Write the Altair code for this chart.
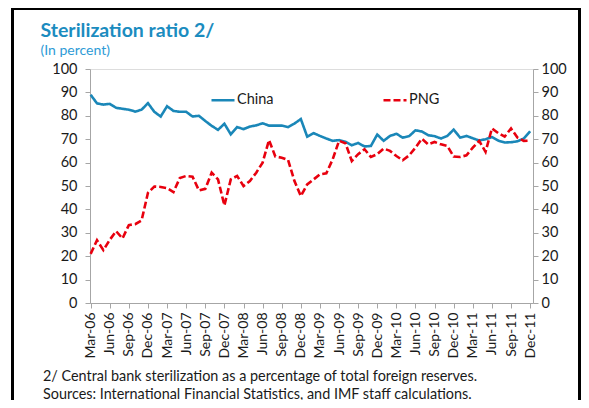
import json
import altair as alt
import pandas as pd

# ---- data ----
series_names = ["China", "PNG"]
tick_labels = ["Mar-06", "Jun-06", "Sep-06", "Dec-06", "Mar-07", "Jun-07", "Sep-07", "Dec-07",
               "Mar-08", "Jun-08", "Sep-08", "Dec-08", "Mar-09", "Jun-09", "Sep-09", "Dec-09",
               "Mar-10", "Jun-10", "Sep-10", "Dec-10", "Mar-11", "Jun-11", "Sep-11", "Dec-11"]
y_ticks = [0, 10, 20, 30, 40, 50, 60, 70, 80, 90, 100]

china = [89.0, 85.3, 84.8, 85.1, 83.4, 83.0, 82.6, 81.8, 82.6, 85.4,
         81.7, 79.7, 84.1, 82.1, 81.7, 81.7, 79.7, 80.0, 77.8, 75.7,
         74.0, 76.6, 72.1, 75.2, 74.3, 75.4, 75.9, 76.8, 75.8, 75.8,
         75.8, 75.2, 76.7, 78.6, 71.1, 72.6, 71.4, 70.3, 69.3, 69.6,
         68.9, 67.4, 68.4, 66.9, 67.1, 72.0, 69.3, 71.4, 72.3, 70.7,
         71.3, 73.8, 73.3, 71.7, 71.3, 70.3, 71.4, 74.1, 70.7, 71.4,
         70.4, 69.4, 70.0, 70.9, 69.4, 68.6, 68.7, 69.1, 70.3, 73.4]

png = [21.0, 26.8, 22.6, 27.0, 30.7, 27.6, 33.3, 33.7, 35.3, 47.1,
       49.8, 49.6, 49.1, 47.4, 53.4, 54.3, 54.0, 48.1, 48.8, 55.7,
       52.8, 41.7, 52.8, 54.3, 50.0, 52.1, 55.7, 60.0, 69.6, 62.6,
       62.1, 61.1, 52.1, 45.7, 50.7, 52.8, 55.0, 55.4, 61.4, 69.3,
       68.3, 60.7, 63.6, 65.7, 62.4, 63.6, 66.0, 65.0, 62.8, 61.0,
       63.1, 66.4, 70.2, 67.8, 68.8, 67.8, 67.1, 62.6, 62.4, 63.1,
       66.4, 69.3, 64.6, 74.6, 72.6, 71.1, 74.6, 70.7, 69.3, 69.4]

title_text = "Sterilization ratio 2/"
subtitle_text = "(In percent)"
footnotes = ["2/ Central bank sterilization as a percentage of total foreign reserves.",
             "Sources: International Financial Statistics, and IMF staff calculations."]

rows = []
for name, vals in zip(series_names, [china, png]):
    for i, v in enumerate(vals):
        rows.append({"month": i, "series": name, "value": v})
df = pd.DataFrame(rows)

FONT = "Lato"
BLUE = "#1a87b8"
RED = "#e8000e"
AXIS_GRAY = "#a6a6a6"

label_expr = json.dumps(tick_labels) + "[round(datum.value/3)]"
x_scale = alt.Scale(domain=[-0.1, 69.45], nice=False, zero=False)
y_scale = alt.Scale(domain=[0, 100], nice=False)

x_enc = alt.X("month:Q", scale=x_scale,
              axis=alt.Axis(values=list(range(0, 70, 3)), labelExpr=label_expr,
                            labelAngle=270, labelFontSize=14, labelPadding=4,
                            tickSize=5, tickColor=AXIS_GRAY, domainColor=AXIS_GRAY,
                            labelColor="#1a1a1a", labelFont=FONT, grid=False, title=None,
                            labelOverlap=False))

lines = alt.Chart(df).mark_line(strokeWidth=2.6).encode(
    x=x_enc,
    y=alt.Y("value:Q", scale=y_scale,
            axis=alt.Axis(values=y_ticks, orient="left", tickSize=5, labelPadding=8,
                          labelFontSize=14.5, labelColor="#1a1a1a", labelFont=FONT,
                          tickColor=AXIS_GRAY, domainColor=AXIS_GRAY, grid=False, title=None)),
    color=alt.Color("series:N", sort=series_names,
                    scale=alt.Scale(domain=series_names, range=[BLUE, RED]),
                    legend=alt.Legend(title=None, orient="none", legendX=120, legendY=18,
                                      direction="horizontal", symbolType="stroke",
                                      symbolSize=530, symbolStrokeWidth=2.6,
                                      labelFontSize=14.5, labelFont=FONT, labelColor="#1a1a1a",
                                      labelOffset=1, columnPadding=104)),
    strokeDash=alt.StrokeDash("series:N", sort=series_names,
                              scale=alt.Scale(domain=series_names, range=[[1, 0], [7, 3]]),
                              legend=None),
    order=alt.Order("month:Q"),
)

right_axis = alt.Chart(df).mark_line(strokeOpacity=0).encode(
    x=x_enc,
    y=alt.Y("value:Q", scale=y_scale,
            axis=alt.Axis(values=y_ticks, orient="right", tickSize=5, labelPadding=3,
                          labelFontSize=14.5, labelColor="#1a1a1a", labelFont=FONT,
                          tickColor=AXIS_GRAY, domainColor=AXIS_GRAY, grid=False, title=None)),
    detail="series:N",
)

text_df = pd.DataFrame({"text": [title_text, subtitle_text] + footnotes, "k": [0, 1, 2, 3]})

def text_layer(k, y, size, color, weight="normal"):
    return alt.Chart(text_df[text_df.k == k]).mark_text(
        align="left", baseline="alphabetic", fontSize=size, font=FONT, color=color,
        fontWeight=weight
    ).encode(x=alt.value(-47 if k >= 2 else -49.5), y=alt.value(y), text="text:N")

title = text_layer(0, -32.5, 19.5, "#1b8cbf", "bold")
subtitle = text_layer(1, -14.5, 14, "#2e9bd6")
note1 = text_layer(2, 311.5, 14.4, "#1a1a1a")
note2 = text_layer(3, 329.5, 14.4, "#1a1a1a")

frame = alt.Chart(pd.DataFrame({"k": [0]})).mark_rect(
    fillOpacity=0, stroke="black", strokeWidth=3, clip=False
).encode(x=alt.value(-77.5), x2=alt.value(489.5), y=alt.value(-60.5), y2=alt.value(400))

chart = alt.layer(lines, right_axis, title, subtitle, note1, note2, frame).resolve_axis(
    y="independent"
).resolve_scale(y="shared").properties(
    width=443, height=234,
    autosize=alt.AutoSizeParams(type="none"),
    padding={"left": 82, "top": 61, "right": 48, "bottom": 97},
).configure_view(stroke="#d9d9d9").configure(background="white")

chart.save("out.html", embed_options={"renderer": "svg", "actions": False})
